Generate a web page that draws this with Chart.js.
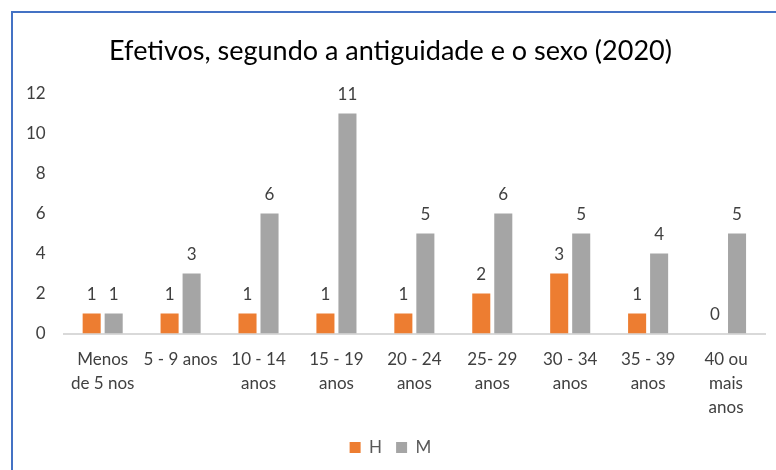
<!DOCTYPE html>
<html>
<head>
<meta charset="utf-8">
<script src="https://cdn.jsdelivr.net/npm/chart.js@4"></script>
<style>
  body { margin: 0; background: #fff; }
  #wrap { position: relative; width: 776px; height: 470px; overflow: hidden; }
  #frame { position: absolute; left: 11px; top: 11px; width: 800px; height: 500px; border-left: 2px solid #4472C4; border-top: 2px solid #4472C4; }
  canvas { position: absolute; left: 0; top: 0; }
</style>
</head>
<body>
<div id="wrap">
  <div id="frame"></div>
  <canvas id="chart" width="776" height="470"></canvas>
</div>
<script>
// categories and values
const categories = [
    ['Menos', 'de 5 nos'], '5 - 9 anos', ['10 - 14', 'anos'], ['15 - 19', 'anos'],
    ['20 - 24', 'anos'], ['25- 29', 'anos'], ['30 - 34', 'anos'], ['35 - 39', 'anos'],
    ['40 ou', 'mais', 'anos']
];
const homens = [1, 1, 1, 1, 1, 2, 3, 1, 0];
const mulheres = [1, 3, 6, 11, 5, 6, 5, 4, 5];
const yTicks = [0, 2, 4, 6, 8, 10, 12];

const fontFamily = 'Lato, "Open Sans", sans-serif';

// simple value labels above each bar
const valueLabels = {
    id: 'valueLabels',
    afterDatasetsDraw(chart) {
        const ctx = chart.ctx;
        ctx.save();
        ctx.font = '17px ' + fontFamily;
        ctx.fillStyle = '#404040';
        ctx.textAlign = 'center';
        ctx.textBaseline = 'middle';
        chart.data.datasets.forEach((ds, i) => {
            chart.getDatasetMeta(i).data.forEach((bar, j) => {
                ctx.fillText(String(ds.data[j]), bar.x, bar.y - 19);
            });
        });
        ctx.restore();
    }
};

const ctx = document.getElementById('chart').getContext('2d');
new Chart(ctx, {
    type: 'bar',
    data: {
        labels: categories,
        datasets: [
            { label: 'H', data: homens, backgroundColor: '#ED7D31' },
            { label: 'M', data: mulheres, backgroundColor: '#A5A5A5' }
        ]
    },
    options: {
        responsive: false,
        animation: false,
        categoryPercentage: 0.565,
        barPercentage: 0.82,
        layout: { padding: { left: 16, right: 11, top: 35, bottom: 4 } },
        plugins: {
            title: {
                display: true,
                text: 'Efetivos, segundo a antiguidade e o sexo (2020)',
                color: '#000',
                font: { family: fontFamily, size: 27, weight: 'normal' },
                padding: { top: 0, bottom: 26 }
            },
            legend: {
                position: 'bottom',
                labels: {
                    color: '#595959',
                    font: { family: fontFamily, size: 17 },
                    boxWidth: 11,
                    boxHeight: 11,
                    padding: 14
                }
            },
            tooltip: { enabled: false }
        },
        scales: {
            x: {
                grid: { display: false },
                border: { color: '#D9D9D9', width: 2 },
                ticks: {
                    color: '#404040',
                    font: { family: fontFamily, size: 17, lineHeight: 1.4 },
                    maxRotation: 0,
                    autoSkip: false,
                    padding: 6
                }
            },
            y: {
                min: 0,
                max: 12,
                grid: { display: false },
                border: { display: false },
                afterBuildTicks: (axis) => { axis.ticks = yTicks.map(v => ({ value: v })); },
                ticks: {
                    color: '#404040',
                    font: { family: fontFamily, size: 17 },
                    padding: 10
                }
            }
        }
    },
    plugins: [valueLabels]
});
</script>
</body>
</html>
